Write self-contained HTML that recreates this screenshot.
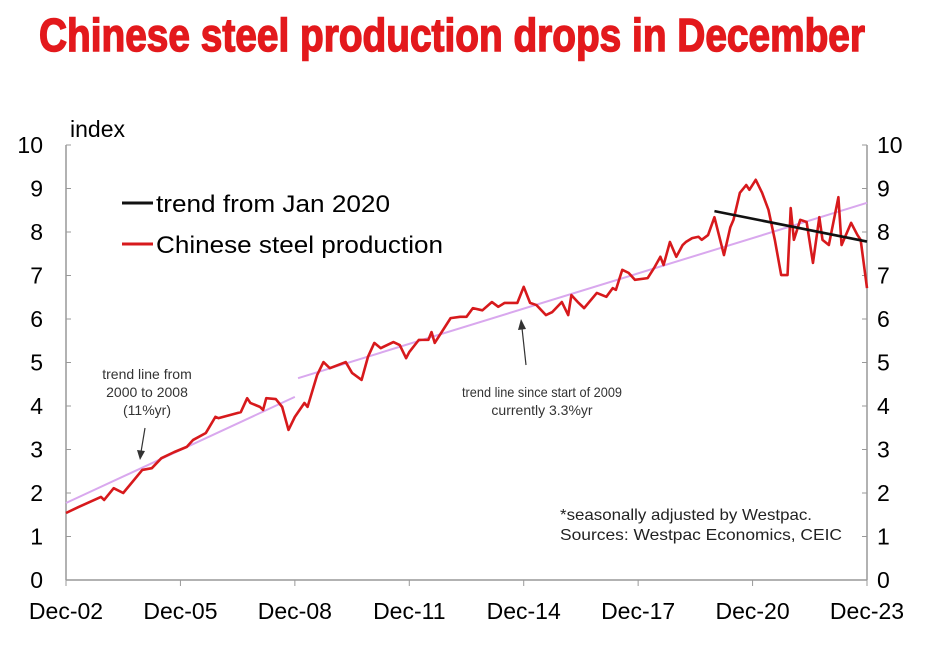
<!DOCTYPE html>
<html><head><meta charset="utf-8"><style>
body{margin:0;background:#fff;}
svg text{font-family:"Liberation Sans",sans-serif;}
</style></head><body>
<svg id="chart" width="933" height="642" viewBox="0 0 933 642" xmlns="http://www.w3.org/2000/svg">
<text x="452" y="51" text-anchor="middle" font-size="46" font-weight="bold" fill="#e3191c" stroke="#e3191c" stroke-width="1.5" textLength="826" lengthAdjust="spacingAndGlyphs" style="font-family:'Liberation Sans Narrow','Liberation Sans',sans-serif">Chinese steel production drops in December</text>
<text x="70" y="137" font-size="23">index</text>
<g id="axes"></g>
<g id="marks"></g>
<g>
<line x1="122" y1="203" x2="153" y2="203" stroke="#111" stroke-width="3"/>
<text x="156" y="212" font-size="24" textLength="234" lengthAdjust="spacingAndGlyphs">trend from Jan 2020</text>
<line x1="122" y1="244" x2="153" y2="244" stroke="#d7191c" stroke-width="3"/>
<text x="156" y="253" font-size="24" textLength="287" lengthAdjust="spacingAndGlyphs">Chinese steel production</text>
</g>
<g font-size="14" fill="#333" text-anchor="middle">
<text x="147" y="379">trend line from</text><text x="147" y="397">2000 to 2008</text><text x="147" y="415">(11%yr)</text>
<line x1="145" y1="428" x2="141" y2="452" stroke="#333" stroke-width="1.2"/><polygon points="137,450 140,460 145,451" fill="#333"/>
</g>
<g font-size="14" fill="#333" text-anchor="middle">
<text x="542" y="397" textLength="160" lengthAdjust="spacingAndGlyphs">trend line since start of 2009</text><text x="542" y="415">currently 3.3%yr</text>
<line x1="526" y1="365" x2="522" y2="328" stroke="#333" stroke-width="1.2"/><polygon points="518,330 521,319 526,329" fill="#333"/>
</g>
<g font-size="16" fill="#222">
<text x="560" y="520" textLength="252" lengthAdjust="spacingAndGlyphs">*seasonally adjusted by Westpac.</text>
<text x="560" y="540" textLength="282" lengthAdjust="spacingAndGlyphs">Sources: Westpac Economics, CEIC</text>
</g>
</svg>
<script>
const months=[0,4,11,12,15,18,24,27,30,34,38,40,44,47,48,55,57,58,61,62,63,66,68,70,72,75,76,79,81,83,88,90,93,95,97,99,103,105,107,108,111,114,115,116,121,124,126,128,131,134,136,138,142,144,146,148,151,153,156,158,159,161,163,167,170,172,173,175,177,179,183,185,187,188,190,192,194,195,197,199,200,202,204,205,207,209,210,212,214,215,217,219,221,223,225,227,228,229,231,233,235,237,238,240,243,244,247,249,250,252];
const values=[1.54,1.68,1.91,1.84,2.11,2.0,2.53,2.57,2.8,2.94,3.06,3.22,3.38,3.75,3.72,3.86,4.18,4.07,3.98,3.91,4.18,4.16,3.98,3.45,3.75,4.07,3.98,4.71,5.01,4.87,5.01,4.76,4.6,5.13,5.45,5.33,5.47,5.4,5.1,5.24,5.52,5.52,5.7,5.45,6.02,6.05,6.05,6.25,6.2,6.39,6.28,6.37,6.37,6.74,6.37,6.32,6.09,6.16,6.39,6.09,6.55,6.39,6.25,6.6,6.51,6.71,6.67,7.13,7.06,6.9,6.94,7.17,7.43,7.24,7.77,7.43,7.7,7.77,7.86,7.89,7.82,7.93,8.34,8.05,7.47,8.11,8.28,8.9,9.08,8.97,9.2,8.9,8.51,7.82,7.01,7.01,8.55,7.82,8.28,8.23,7.29,8.34,7.82,7.7,8.8,7.7,8.21,7.93,7.82,6.71];
const trend1Months=[0,72], trend1Values=[1.77,4.21];
const trend2Months=[73,252], trend2Values=[4.64,8.67];
const trend3Months=[204,252], trend3Values=[8.48,7.78];
const yTicks=[0,1,2,3,4,5,6,7,8,9,10];
const xTickLabels=["Dec-02","Dec-05","Dec-08","Dec-11","Dec-14","Dec-17","Dec-20","Dec-23"];
const xTickMonths=[0,36,72,108,144,180,216,252];
const X0=66,X1=867,Y0=580,Y1=145;
const xs=m=>X0+m/252*(X1-X0);
const ys=v=>Y0-v/10*(Y0-Y1);
const NS="http://www.w3.org/2000/svg";
const axes=document.getElementById('axes'),marks=document.getElementById('marks');
function mk(tag,attrs,parent){const e=document.createElementNS(NS,tag);for(const k in attrs)e.setAttribute(k,attrs[k]);parent.appendChild(e);return e;}
let e;
e=mk('line',{x1:X0,y1:Y1,x2:X0,y2:Y0,stroke:'#999','stroke-width':1.5},axes);


e=mk('line',{x1:X1,y1:Y1,x2:X1,y2:Y0,stroke:'#999','stroke-width':1.5},axes);


e=mk('line',{x1:X0,y1:Y0,x2:X1,y2:Y0,stroke:'#999','stroke-width':1.5},axes);


yTicks.forEach(v=>{
  mk('line',{x1:X0,y1:ys(v),x2:X0+5,y2:ys(v),stroke:'#999'},axes);
  mk('line',{x1:X1-5,y1:ys(v),x2:X1,y2:ys(v),stroke:'#999'},axes);
  e=mk('text',{x:43,y:ys(v)+8,'font-size':23,'text-anchor':'end'},axes);e.textContent=v;
  
  
  e=mk('text',{x:877,y:ys(v)+8,'font-size':23},axes);e.textContent=v;
  
  
});
xTickLabels.forEach((l,i)=>{
  const x=xs(xTickMonths[i]);
  mk('line',{x1:x,y1:Y0,x2:x,y2:Y0+6,stroke:'#999'},axes);
  e=mk('text',{x:x,y:619,'font-size':23,'text-anchor':'middle'},axes);e.textContent=l;
  
  
});
function line(ms,vs,color,w,name){
  const p=mk('polyline',{points:ms.map((m,i)=>xs(m)+','+ys(vs[i])).join(' '),fill:'none',stroke:color,'stroke-width':w,'stroke-linejoin':'round'},marks);
  
  
}
line(trend1Months,trend1Values,'#d9a8ee',2,'trend-line-2000-2008');
line(trend2Months,trend2Values,'#d9a8ee',2,'trend-line-since-2009');
line(months,values,'#d7191c',2.6,'steel-production-line');
line(trend3Months,trend3Values,'#111',2.6,'trend-line-jan-2020');
</script>
</body></html>
